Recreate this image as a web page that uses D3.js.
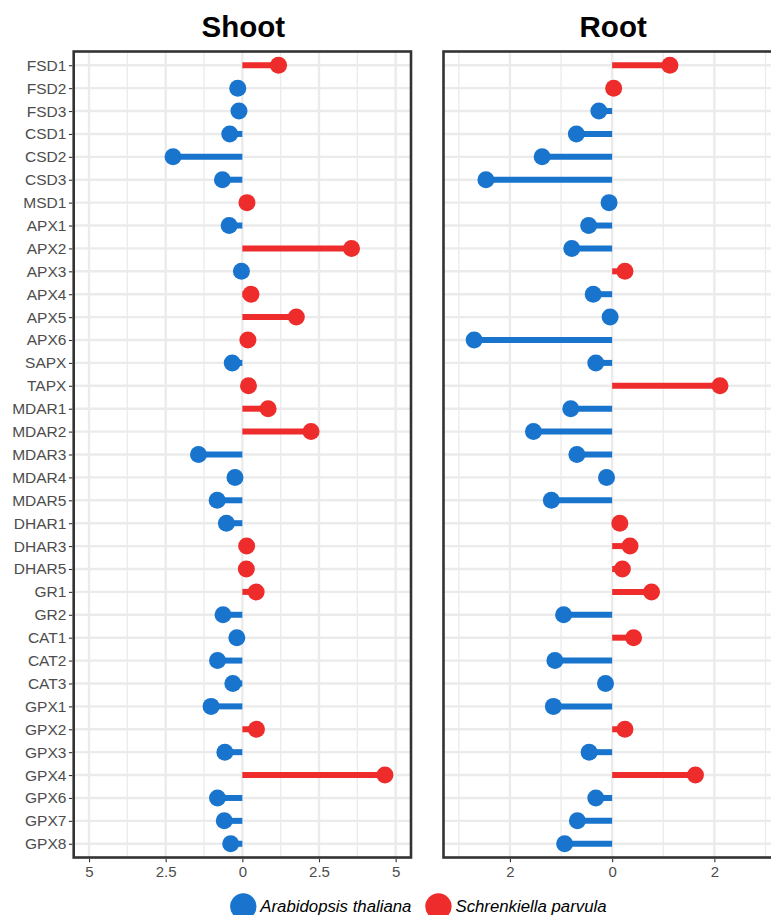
<!DOCTYPE html>
<html>
<head>
<meta charset="utf-8">
<script src="https://cdn.jsdelivr.net/npm/d3@7"></script>
<style>
  html, body { margin: 0; padding: 0; background: #fff; overflow: hidden; }
  svg { display: block; font-family: "Liberation Sans", Arial, Helvetica, sans-serif; }
</style>
</head>
<body>
<svg id="chart" width="771" height="915"></svg>
<script>
// Antioxidant genes, top to bottom
const genes = ["FSD1","FSD2","FSD3","CSD1","CSD2","CSD3","MSD1","APX1","APX2","APX3","APX4","APX5","APX6","SAPX","TAPX",
  "MDAR1","MDAR2","MDAR3","MDAR4","MDAR5","DHAR1","DHAR3","DHAR5","GR1","GR2","CAT1","CAT2","CAT3",
  "GPX1","GPX2","GPX3","GPX4","GPX6","GPX7","GPX8"];

// Expression difference per gene (negative: higher in A. thaliana, positive: higher in S. parvula)
const shootValues = [1.18, -0.15, -0.11, -0.41, -2.26, -0.65, 0.15, -0.43, 3.56, -0.03, 0.28, 1.76, 0.18, -0.33, 0.20,
  0.84, 2.24, -1.43, -0.24, -0.82, -0.52, 0.14, 0.13, 0.45, -0.63, -0.18, -0.81, -0.31,
  -1.02, 0.46, -0.57, 4.65, -0.81, -0.59, -0.38];
const rootValues = [1.13, 0.03, -0.26, -0.70, -1.37, -2.47, -0.06, -0.46, -0.79, 0.25, -0.37, -0.04, -2.70, -0.32, 2.11,
  -0.81, -1.54, -0.69, -0.11, -1.19, 0.15, 0.35, 0.20, 0.77, -0.95, 0.42, -1.12, -0.13,
  -1.15, 0.25, -0.45, 1.63, -0.32, -0.68, -0.93];

const panelTitles = ["Shoot", "Root"];
const shootMajorTicks = [-5, -2.5, 0, 2.5, 5];
const shootMinorTicks = [-3.75, -1.25, 1.25, 3.75];
const rootMajorTicks = [-2, 0, 2];
const rootMinorTicks = [-3, -1, 1, 3];
const speciesNames = ["Arabidopsis thaliana", "Schrenkiella parvula"];
const speciesColors = ["#1874CD", "#EE2C2C"];

const svg = d3.select("#chart");
const panelTop = 51.5, panelBottom = 857.5;

const y = d3.scalePoint().domain(genes).range([panelTop, panelBottom]).padding(0.6);

const panels = [
  { title: panelTitles[0], values: shootValues, domain: [-5.5, 5.5], range: [73.7, 411],
    major: shootMajorTicks, minor: shootMinorTicks, yAxis: true },
  { title: panelTitles[1], values: rootValues, domain: [-3.3, 3.3], range: [443.5, 780.8],
    major: rootMajorTicks, minor: rootMinorTicks, yAxis: false }
];

const gridColor = "#EBEBEB";
const textColor = "#4D4D4D";
const fmt = d => String(Math.abs(d));

panels.forEach(p => {
  const x = d3.scaleLinear().domain(p.domain).range(p.range);
  const g = svg.append("g");
  const [x0, x1] = p.range;

  // grid
  g.append("g").selectAll("line").data(p.minor).join("line")
    .attr("x1", d => x(d)).attr("x2", d => x(d)).attr("y1", panelTop).attr("y2", panelBottom)
    .attr("stroke", gridColor).attr("stroke-width", 1.3);
  g.append("g").selectAll("line").data(p.major).join("line")
    .attr("x1", d => x(d)).attr("x2", d => x(d)).attr("y1", panelTop).attr("y2", panelBottom)
    .attr("stroke", gridColor).attr("stroke-width", 2.4);
  g.append("g").selectAll("line").data(genes).join("line")
    .attr("x1", x0).attr("x2", x1).attr("y1", d => y(d)).attr("y2", d => y(d))
    .attr("stroke", gridColor).attr("stroke-width", 2.4);

  const rows = genes.map((gene, i) => ({ gene, v: p.values[i] }));
  const col = d => d.v < 0 ? speciesColors[0] : speciesColors[1];

  // stems
  g.append("g").selectAll("line").data(rows).join("line")
    .attr("x1", x(0)).attr("x2", d => x(d.v))
    .attr("y1", d => y(d.gene)).attr("y2", d => y(d.gene))
    .attr("stroke", col).attr("stroke-width", 6);
  // heads
  g.append("g").selectAll("circle").data(rows).join("circle")
    .attr("cx", d => x(d.v)).attr("cy", d => y(d.gene)).attr("r", 8.5)
    .attr("fill", col);

  // border
  g.append("rect").attr("x", x0).attr("y", panelTop).attr("width", x1 - x0).attr("height", panelBottom - panelTop)
    .attr("fill", "none").attr("stroke", "#333333").attr("stroke-width", 2.6);

  // x axis
  const xa = g.append("g").attr("transform", `translate(0,${panelBottom + 1.3})`)
    .call(d3.axisBottom(x).tickValues(p.major).tickFormat(fmt).tickSize(3.5).tickSizeOuter(0).tickPadding(4));
  xa.select(".domain").remove();
  xa.selectAll(".tick line").attr("stroke", "#333333").attr("stroke-width", 1.1);
  xa.selectAll(".tick text").attr("fill", textColor).attr("font-size", 15)
    .attr("font-family", "Liberation Sans, Arial, sans-serif");

  if (p.yAxis) {
    const ya = g.append("g").attr("transform", `translate(${x0 - 1.3},0)`)
      .call(d3.axisLeft(y).tickSize(3.5).tickSizeOuter(0).tickPadding(2.5));
    ya.select(".domain").remove();
    ya.selectAll(".tick line").attr("stroke", "#333333").attr("stroke-width", 1.1);
    ya.selectAll(".tick text").attr("fill", textColor).attr("font-size", 15.5)
      .attr("font-family", "Liberation Sans, Arial, sans-serif");
  }

  // title
  svg.append("text").attr("x", (x0 + x1) / 2 + 1).attr("y", 36.5)
    .attr("text-anchor", "middle").attr("font-size", 29.5).attr("font-weight", "bold")
    .attr("fill", "#000").text(p.title);
});

// legend
const legend = svg.append("g");
let lx = 243.3;
speciesNames.forEach((name, i) => {
  legend.append("circle").attr("cx", lx).attr("cy", 906.5).attr("r", 13.2).attr("fill", speciesColors[i]);
  const t = legend.append("text").attr("x", lx + 17).attr("y", 911.7)
    .attr("font-size", 16.8).attr("font-style", "italic").attr("fill", "#000").text(name);
  lx = lx + 17 + t.node().getComputedTextLength() + 27;
});
</script>
</body>
</html>
